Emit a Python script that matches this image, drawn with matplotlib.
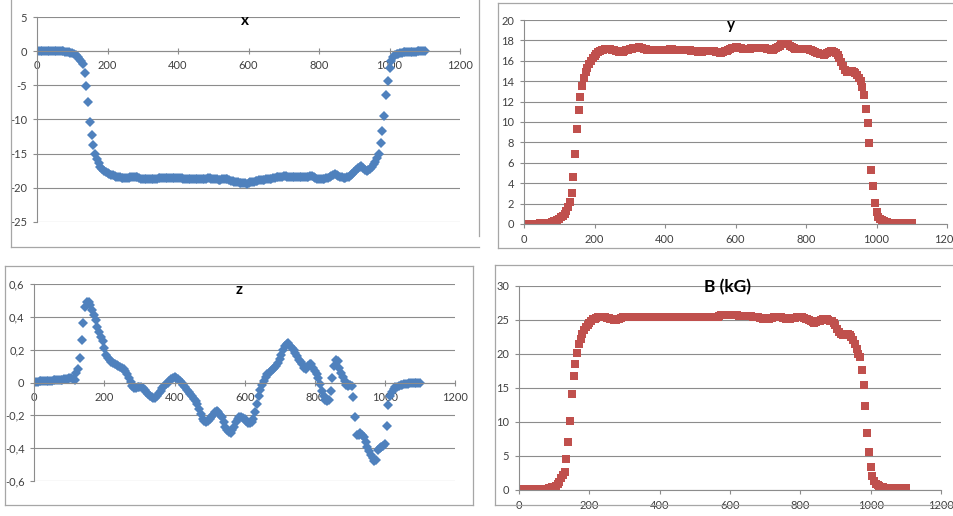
import matplotlib
matplotlib.use('Agg')
import matplotlib.pyplot as plt
from matplotlib.lines import Line2D
from matplotlib.ticker import FuncFormatter

plt.rcParams['font.family'] = ['Lato', 'DejaVu Sans']
plt.rcParams['axes.unicode_minus'] = False

# ---------------- data ----------------
positions = list(range(0, 1105, 5))

bx_values = [
    0, 0, 0, 0, 0, 0, 0, 0, 0, 0,
    0, 0, 0, 0, 0, 0, -0.05, -0.1, -0.15, -0.2,
    -0.3, -0.45, -0.6, -0.85, -1.1, -1.4, -1.8, -3.2, -5.1, -7.5,
    -10.4, -12.3, -13.8, -15.0, -15.8, -16.4, -16.9, -17.2, -17.5, -17.7,
    -17.9, -18.0, -18.1, -18.2, -18.3, -18.4, -18.5, -18.5, -18.6, -18.6,
    -18.6, -18.6, -18.6, -18.5, -18.5, -18.4, -18.4, -18.5, -18.6, -18.7,
    -18.7, -18.8, -18.8, -18.8, -18.7, -18.7, -18.7, -18.7, -18.7, -18.6,
    -18.6, -18.6, -18.6, -18.6, -18.6, -18.6, -18.6, -18.6, -18.6, -18.6,
    -18.6, -18.6, -18.6, -18.7, -18.7, -18.7, -18.8, -18.8, -18.8, -18.8,
    -18.8, -18.8, -18.8, -18.8, -18.7, -18.7, -18.7, -18.6, -18.6, -18.7,
    -18.7, -18.8, -18.8, -18.9, -18.9, -18.8, -18.7, -18.7, -18.8, -18.9,
    -19.0, -19.0, -19.1, -19.2, -19.2, -19.3, -19.3, -19.3, -19.3, -19.4,
    -19.3, -19.2, -19.2, -19.1, -19.0, -19.0, -18.9, -18.9, -18.9, -18.9,
    -18.8, -18.8, -18.7, -18.7, -18.6, -18.6, -18.5, -18.5, -18.4, -18.4,
    -18.3, -18.3, -18.4, -18.4, -18.5, -18.5, -18.5, -18.5, -18.5, -18.5,
    -18.5, -18.5, -18.4, -18.4, -18.4, -18.3, -18.3, -18.5, -18.6, -18.7,
    -18.7, -18.8, -18.7, -18.7, -18.6, -18.6, -18.5, -18.3, -18.1, -18.0,
    -18.1, -18.3, -18.4, -18.5, -18.6, -18.6, -18.5, -18.4, -18.2, -18.0,
    -17.7, -17.4, -17.1, -16.9, -16.8, -17.1, -17.4, -17.5, -17.4, -17.2,
    -16.9, -16.6, -16.2, -15.6, -15.0, -13.4, -11.7, -9.5, -6.4, -4.3,
    -2.5, -1.4, -0.9, -0.6, -0.45, -0.35, -0.25, -0.2, -0.15, -0.1,
    -0.1, -0.1, -0.05, -0.05, -0.05, -0.05, 0, 0, 0, 0,
    0,
]

by_values = [
    0, 0, 0, 0, 0, 0, 0, 0, 0, 0.05,
    0.05, 0.05, 0.05, 0.05, 0.05, 0.1, 0.15, 0.25, 0.3, 0.4,
    0.5, 0.65, 0.8, 1.0, 1.3, 1.7, 2.2, 3.0, 4.6, 6.9,
    9.3, 11.2, 12.5, 13.5, 14.3, 14.9, 15.3, 15.7, 16.0, 16.3,
    16.5, 16.7, 16.9, 17.0, 17.1, 17.1, 17.2, 17.2, 17.2, 17.2,
    17.1, 17.1, 17.0, 17.0, 16.9, 16.9, 16.9, 17.0, 17.1, 17.1,
    17.2, 17.2, 17.3, 17.3, 17.3, 17.4, 17.3, 17.3, 17.2, 17.2,
    17.1, 17.1, 17.1, 17.1, 17.1, 17.1, 17.1, 17.1, 17.1, 17.1,
    17.1, 17.1, 17.1, 17.2, 17.2, 17.1, 17.1, 17.1, 17.1, 17.1,
    17.1, 17.1, 17.1, 17.1, 17.1, 17.0, 17.0, 17.0, 17.0, 16.9,
    16.9, 16.9, 17.0, 17.0, 17.0, 17.0, 17.0, 17.0, 17.0, 16.9,
    16.9, 16.8, 16.8, 16.9, 17.0, 17.0, 17.1, 17.2, 17.3, 17.3,
    17.4, 17.4, 17.3, 17.3, 17.2, 17.2, 17.2, 17.2, 17.2, 17.3,
    17.3, 17.3, 17.3, 17.3, 17.3, 17.3, 17.3, 17.3, 17.2, 17.2,
    17.1, 17.1, 17.2, 17.3, 17.4, 17.5, 17.6, 17.6, 17.6, 17.6,
    17.6, 17.5, 17.4, 17.3, 17.2, 17.2, 17.2, 17.2, 17.2, 17.2,
    17.2, 17.2, 17.1, 17.1, 17.0, 16.9, 16.8, 16.8, 16.7, 16.7,
    16.6, 16.7, 16.8, 16.9, 17.0, 17.0, 16.9, 16.8, 16.6, 16.3,
    15.9, 15.5, 15.1, 14.9, 14.9, 15.0, 15.0, 14.9, 14.8, 14.6,
    14.3, 14.0, 13.4, 12.6, 11.3, 9.9, 7.9, 5.3, 3.7, 2.1,
    1.2, 0.7, 0.45, 0.35, 0.25, 0.2, 0.15, 0.1, 0.1, 0.1,
    0.1, 0.1, 0.1, 0.1, 0.1, 0.1, 0.1, 0.1, 0.1, 0.1,
    0.1,
]

bz_values = [
    0.005, 0.005, 0.005, 0.008, 0.008, 0.01, 0.01, 0.01, 0.01, 0.012,
    0.012, 0.014, 0.015, 0.015, 0.017, 0.018, 0.018, 0.02, 0.02, 0.022,
    0.025, 0.025, 0.02, 0.015, 0.06, 0.08, 0.15, 0.26, 0.36, 0.46,
    0.49, 0.49, 0.475, 0.44, 0.41, 0.38, 0.34, 0.31, 0.28, 0.25,
    0.21, 0.17, 0.15, 0.135, 0.125, 0.12, 0.11, 0.105, 0.1, 0.095,
    0.09, 0.085, 0.07, 0.05, 0.03, 0.005, -0.02, -0.035, -0.035, -0.03,
    -0.025, -0.025, -0.035, -0.045, -0.06, -0.07, -0.08, -0.09, -0.095, -0.095,
    -0.08, -0.065, -0.05, -0.035, -0.02, -0.01, 0.0, 0.01, 0.02, 0.03,
    0.035, 0.03, 0.02, 0.01, -0.005, -0.015, -0.03, -0.045, -0.055, -0.07,
    -0.085, -0.1, -0.115, -0.13, -0.16, -0.19, -0.22, -0.235, -0.24, -0.235,
    -0.225, -0.21, -0.195, -0.18, -0.175, -0.18, -0.195, -0.21, -0.24, -0.27,
    -0.29, -0.3, -0.305, -0.29, -0.27, -0.24, -0.22, -0.21, -0.21, -0.215,
    -0.225, -0.235, -0.245, -0.245, -0.24, -0.22, -0.18, -0.13, -0.085, -0.045,
    -0.015, 0.01, 0.035, 0.05, 0.06, 0.07, 0.08, 0.09, 0.1, 0.12,
    0.145, 0.17, 0.2, 0.22, 0.235, 0.24, 0.225, 0.21, 0.195, 0.18,
    0.16, 0.14, 0.125, 0.11, 0.09, 0.085, 0.1, 0.115, 0.11, 0.09,
    0.07, 0.05, 0.03, -0.01, -0.05, -0.08, -0.105, -0.11, -0.105, -0.05,
    0.03, 0.1, 0.14, 0.13, 0.09, 0.06, 0.035, 0.01, -0.015, -0.02,
    -0.015, -0.02, -0.09, -0.21, -0.32, -0.32, -0.31, -0.32, -0.33, -0.36,
    -0.39, -0.42, -0.44, -0.46, -0.48, -0.47, -0.41, -0.4, -0.39, -0.385,
    -0.375, -0.265, -0.14, -0.08, -0.055, -0.04, -0.03, -0.025, -0.02, -0.018,
    -0.015, -0.012, -0.01, -0.008, -0.006, -0.005, -0.004, -0.003, -0.002, -0.001,
    0.0,
]

b_values = [
    0.1, 0.1, 0.1, 0.1, 0.1, 0.1, 0.1, 0.1, 0.1, 0.1,
    0.1, 0.15, 0.15, 0.15, 0.15, 0.15, 0.2, 0.25, 0.3, 0.4,
    0.5, 0.65, 0.9, 1.2, 1.7, 2.2, 2.7, 4.5, 7.0, 10.2,
    14.1, 16.7, 18.6, 20.1, 21.4, 22.2, 22.9, 23.5, 23.9, 24.3,
    24.6, 24.9, 25.1, 25.2, 25.3, 25.4, 25.4, 25.4, 25.4, 25.4,
    25.3, 25.3, 25.2, 25.1, 25.0, 25.0, 25.1, 25.2, 25.3, 25.4,
    25.4, 25.5, 25.5, 25.5, 25.5, 25.5, 25.5, 25.4, 25.4, 25.4,
    25.4, 25.4, 25.4, 25.4, 25.4, 25.4, 25.4, 25.4, 25.4, 25.4,
    25.4, 25.4, 25.4, 25.4, 25.4, 25.5, 25.5, 25.5, 25.5, 25.5,
    25.5, 25.5, 25.5, 25.5, 25.5, 25.5, 25.4, 25.4, 25.4, 25.4,
    25.4, 25.4, 25.5, 25.5, 25.5, 25.5, 25.4, 25.4, 25.4, 25.5,
    25.5, 25.4, 25.4, 25.5, 25.6, 25.7, 25.7, 25.8, 25.8, 25.8,
    25.8, 25.8, 25.8, 25.7, 25.7, 25.6, 25.6, 25.6, 25.6, 25.6,
    25.6, 25.6, 25.6, 25.5, 25.5, 25.5, 25.4, 25.3, 25.3, 25.2,
    25.2, 25.2, 25.2, 25.3, 25.3, 25.4, 25.5, 25.5, 25.5, 25.4,
    25.3, 25.3, 25.2, 25.2, 25.2, 25.3, 25.3, 25.3, 25.4, 25.4,
    25.4, 25.4, 25.3, 25.2, 25.1, 25.0, 24.8, 24.7, 24.6, 24.7,
    24.8, 24.9, 25.0, 25.1, 25.1, 25.1, 25.0, 24.9, 24.8, 24.6,
    24.2, 23.7, 23.2, 22.9, 22.8, 22.8, 22.9, 22.9, 22.8, 22.5,
    22.0, 21.5, 20.8, 20.0, 19.5, 17.7, 15.4, 12.3, 8.4, 5.6,
    3.4, 2.0, 1.3, 0.9, 0.7, 0.55, 0.45, 0.4, 0.35, 0.3,
    0.25, 0.25, 0.25, 0.25, 0.25, 0.25, 0.25, 0.25, 0.25, 0.25,
    0.25,
]

x_ticks = [0, 200, 400, 600, 800, 1000, 1200]
titles = ['x', 'y', 'z', 'B (kG)']

# ---------------- style ----------------
BLUE = '#4F81BD'
RED = '#C0504D'
GRID = '#8c8c8c'
BORDER = '#a6a6a6'
LABEL = '#404040'

W, H = 954, 516
fig = plt.figure(figsize=(W / 100, H / 100), dpi=100)
fig.patch.set_facecolor('white')


def rect(l, t, r, b):
    return [l / W, 1 - b / H, (r - l) / W, (b - t) / H]


def fline(x0, y0, x1, y1):
    fig.add_artist(Line2D([x0 / W, x1 / W], [1 - y0 / H, 1 - y1 / H],
                          transform=fig.transFigure, color=BORDER, lw=0.9))


# chart-area borders
fline(11, 0, 11, 247); fline(11, 247, 479, 247); fline(479, 0, 479, 236)
fline(498, 3, 954, 3); fline(498, 3, 498, 248); fline(498, 248, 954, 248)
fline(5, 266, 473, 266); fline(5, 266, 5, 505); fline(5, 505, 473, 505); fline(473, 266, 473, 505)
fline(495, 265, 954, 265); fline(495, 265, 495, 505); fline(495, 505, 954, 505)


def style(ax, ylim, yticks, fmt, zero_axis):
    ax.set_xlim(0, 1200)
    ax.set_ylim(*ylim)
    ax.set_xticks(x_ticks)
    ax.set_yticks(yticks)
    ax.yaxis.set_major_formatter(FuncFormatter(fmt))
    ax.xaxis.set_major_formatter(FuncFormatter(lambda v, p: '%d' % v))
    for s in ['top', 'right']:
        ax.spines[s].set_visible(False)
    for s in ['left', 'bottom']:
        ax.spines[s].set_color(GRID)
        ax.spines[s].set_linewidth(0.8)
    ax.spines['left'].set_position(('data', 0))
    if zero_axis:
        ax.spines['bottom'].set_position(('data', 0))
        ax.tick_params(axis='x', direction='inout', length=5)
    else:
        ax.tick_params(axis='x', direction='out', length=3)
    ax.tick_params(axis='y', direction='out', length=3)
    ax.tick_params(axis='both', colors=GRID, labelcolor=LABEL, labelsize=8, width=0.8, pad=4)
    ax.yaxis.grid(True, color=GRID, lw=0.8)
    ax.set_axisbelow(True)
    ax.set_facecolor('none')


def dec_comma(v, p):
    if abs(v) < 1e-9:
        return '0'
    return ('%.1f' % v).replace('.', ',')


int_fmt = lambda v, p: '%d' % round(v)

# panel x
ax1 = fig.add_axes(rect(37, 17.3, 460, 221.7))
ax1.plot(positions, bx_values, ls='none', marker='D', ms=4.6, color=BLUE, mew=0)
style(ax1, (-25, 5), [-25, -20, -15, -10, -5, 0, 5], int_fmt, True)

# panel y
ax2 = fig.add_axes(rect(524, 20, 947, 224))
ax2.plot(positions, by_values, ls='none', marker='s', ms=5.6, color=RED, mew=0)
style(ax2, (0, 20), list(range(0, 21, 2)), int_fmt, False)

# panel z
ax3 = fig.add_axes(rect(34.3, 284, 455, 481))
ax3.plot(positions, bz_values, ls='none', marker='D', ms=4.6, color=BLUE, mew=0)
style(ax3, (-0.6, 0.6), [-0.6, -0.4, -0.2, 0, 0.2, 0.4, 0.6], dec_comma, True)

# panel B
ax4 = fig.add_axes(rect(519, 286, 941, 490))
ax4.plot(positions, b_values, ls='none', marker='s', ms=5.6, color=RED, mew=0)
style(ax4, (0, 30), [0, 5, 10, 15, 20, 25, 30], int_fmt, False)

# titles
title_pos = [(245, 21), (731, 25), (239, 290), (728, 287)]
title_size = [11, 11, 11, 12.5]
for t, (tx, ty), fs in zip(titles, title_pos, title_size):
    fig.text(tx / W, 1 - ty / H, t, ha='center', va='center', fontsize=fs,
             fontweight='bold', color='black')

fig.savefig('out.png', dpi=100, facecolor='white')
